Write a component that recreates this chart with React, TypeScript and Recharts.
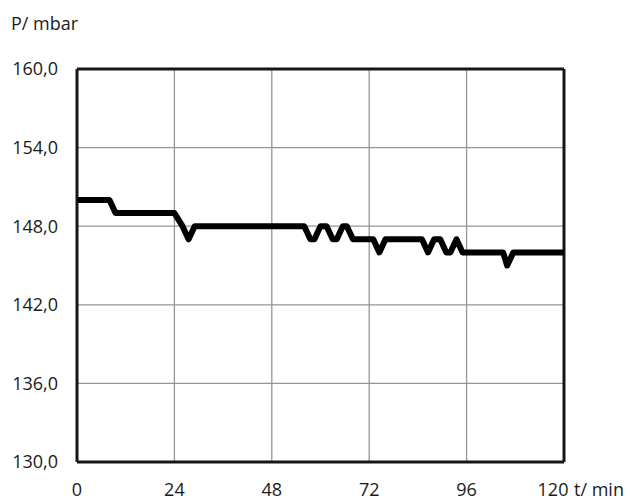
import { CartesianGrid, Line, LineChart, ReferenceLine, XAxis, YAxis } from "recharts";

// time in minutes and pressure in mbar
const times = [
  0, 8, 9.5, 24, 26, 27.5, 29, 56, 57.5, 58.5, 60, 61.5, 63, 64, 65.5, 66.5, 68, 73, 74.5, 76, 85,
  86.5, 88, 89.5, 91, 92, 93.5, 95, 105, 106, 107.5, 120,
];
const pressure = [
  150, 150, 149, 149, 148, 147, 148, 148, 147, 147, 148, 148, 147, 147, 148, 148, 147, 147, 146, 147,
  147, 146, 147, 147, 146, 146, 147, 146, 146, 145, 146, 146,
];
const xTicks = [0, 24, 48, 72, 96, 120];
const yTicks = [130, 136, 142, 148, 154, 160];

const rows = times.map((t, i) => ({ t, p: pressure[i] }));

const font = "'Open Sans', sans-serif";
const textColor = "#1a1a1a";
const fontSize = 18;
const fmtY = (v: number) => v.toFixed(1).replace(".", ",");

function XTick(props: { x?: number; y?: number; payload?: { value: number } }) {
  const { x = 0, y = 0, payload } = props;
  const v = payload?.value ?? 0;
  // the last label carries the unit, so it is nudged left
  const cx = v === 120 ? x - 11 : x;
  return (
    <g>
      <text x={cx} y={y} dy="0.71em" textAnchor="middle" fill={textColor} fontSize={fontSize} fontFamily={font}>
        {v}
      </text>
      {v === 120 && (
        <text x={cx + 21} y={y} dy="0.71em" textAnchor="start" fill={textColor} fontSize={fontSize} fontFamily={font}>
          t/ min
        </text>
      )}
    </g>
  );
}

export default function App() {
  return (
    <div style={{ position: "absolute", left: 0, top: 0, width: 631, height: 501, background: "#fff" }}>
      <div
        style={{
          position: "absolute",
          left: 11,
          top: 11,
          fontFamily: font,
          fontSize,
          color: textColor,
        }}
      >
        P/ mbar
      </div>
      <LineChart width={631} height={501} data={rows} margin={{ top: 69, right: 67, bottom: 0, left: 17 }}>
        <CartesianGrid stroke="#959595" strokeWidth={1.3} />
        <XAxis
          dataKey="t"
          type="number"
          domain={[0, 120]}
          ticks={xTicks}
          axisLine={false}
          tickLine={false}
          tickSize={0}
          tickMargin={21}
          height={39}
          tick={<XTick />}
          interval={0}
        />
        <YAxis
          type="number"
          domain={[130, 160]}
          ticks={yTicks}
          tickFormatter={fmtY}
          axisLine={false}
          tickLine={false}
          tickSize={0}
          tickMargin={19}
          width={60}
          interval={0}
          tick={{ fill: textColor, fontSize, fontFamily: font }}
        />
        <ReferenceLine x={0} stroke="#161616" strokeWidth={3} />
        <ReferenceLine x={120} stroke="#161616" strokeWidth={3} />
        <ReferenceLine y={130} stroke="#161616" strokeWidth={3} />
        <ReferenceLine y={160} stroke="#161616" strokeWidth={3} />
        <Line
          type="linear"
          dataKey="p"
          stroke="#000"
          strokeWidth={6}
          strokeLinejoin="round"
          dot={false}
          activeDot={false}
          isAnimationActive={false}
        />
      </LineChart>
    </div>
  );
}
